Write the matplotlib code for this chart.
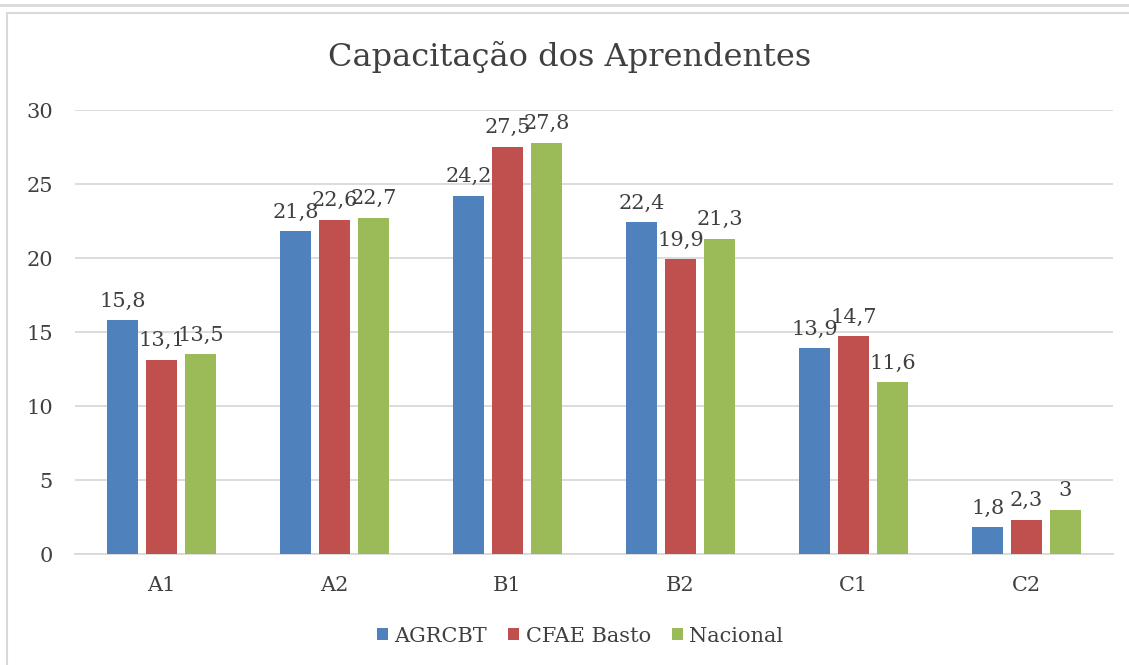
import numpy as np
import matplotlib
matplotlib.use("Agg")
import matplotlib.pyplot as plt
from matplotlib.patches import Rectangle
from matplotlib.lines import Line2D

# ---------------------------------------------------------------------------
# Data
# ---------------------------------------------------------------------------
CATEGORIES = ["A1", "A2", "B1", "B2", "C1", "C2"]
AGRCBT = [15.8, 21.8, 24.2, 22.4, 13.9, 1.8]
CFAE_BASTO = [13.1, 22.6, 27.5, 19.9, 14.7, 2.3]
NACIONAL = [13.5, 22.7, 27.8, 21.3, 11.6, 3]
SERIES_NAMES = ["AGRCBT", "CFAE Basto", "Nacional"]
Y_TICKS = [0, 5, 10, 15, 20, 25, 30]

COLORS = ["#4F81BD", "#C0504D", "#9BBB59"]
TEXT = "#404040"
GRID = "#D9D9D9"
FS = 15

plt.rcParams["font.family"] = ["DejaVu Serif"]

W, H = 1129, 665
fig = plt.figure(figsize=(W / 100, H / 100), dpi=100)

# borders (chart frame + line of element above)
fig.add_artist(Line2D([0, 1], [1 - 5 / H, 1 - 5 / H], transform=fig.transFigure,
                      color=GRID, lw=2))
fig.add_artist(Rectangle((7 / W, -0.01), 1.2, 1 - 13 / H + 0.01,
                         transform=fig.transFigure, fill=False,
                         edgecolor=GRID, lw=1.5))

ax = fig.add_axes([75 / W, (H - 554) / H, (1113 - 75) / W, (554 - 110) / H])

x = np.arange(len(CATEGORIES))
width = 0.18
step = 0.225
all_series = [AGRCBT, CFAE_BASTO, NACIONAL]
for i, (vals, name) in enumerate(zip(all_series, SERIES_NAMES)):
    pos = x + (i - 1) * step
    bars = ax.bar(pos, vals, width, color=COLORS[i], label=name, zorder=3)
    labels = [f"{v:g}".replace(".", ",") for v in vals]
    ax.bar_label(bars, labels=labels, padding=7, fontsize=FS, color=TEXT)

ax.set_xlim(-0.5, len(CATEGORIES) - 0.5)
ax.set_ylim(0, 30)
ax.set_yticks(Y_TICKS)
ax.set_xticks(x)
ax.set_xticklabels(CATEGORIES)
ax.tick_params(length=0, labelsize=FS, colors=TEXT)
ax.tick_params(axis="x", pad=16)
ax.tick_params(axis="y", pad=16)
ax.grid(axis="y", color=GRID, lw=1.3, zorder=0)
for s in ["top", "right", "left"]:
    ax.spines[s].set_visible(False)
ax.spines["bottom"].set_color(GRID)
ax.spines["bottom"].set_linewidth(1.3)

fig.text(570 / W, 1 - 57 / H, "Capacitação dos Aprendentes", ha="center",
         va="center", fontsize=23, color=TEXT)

fig.legend(loc="center", bbox_to_anchor=(580 / W, 1 - 636 / H), ncol=3,
           frameon=False, fontsize=FS, handlelength=0.55, handleheight=0.55,
           handletextpad=0.3, columnspacing=1.0, labelcolor=TEXT)

fig.savefig("out.png", dpi=100)
